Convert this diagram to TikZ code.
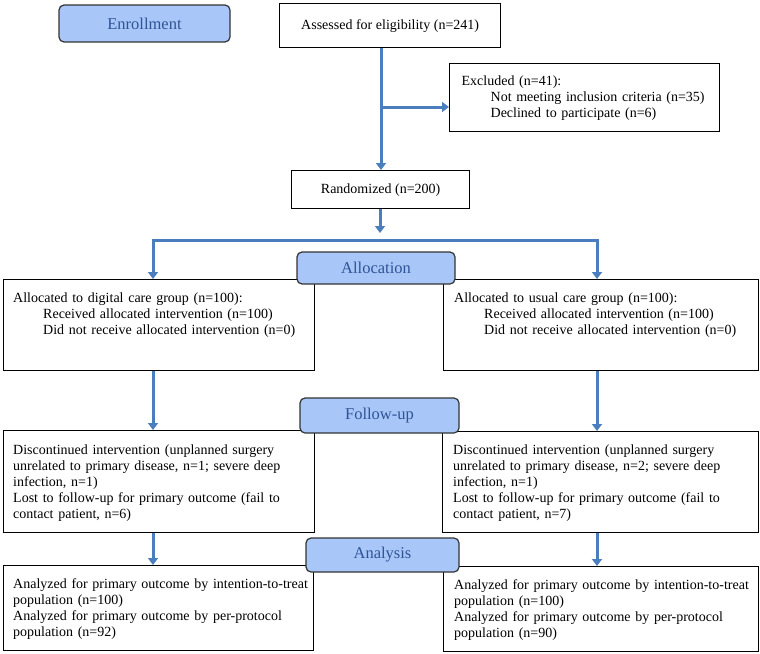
\documentclass[tikz,border=0pt]{standalone}
\usepackage{fontspec}
\setmainfont{Liberation Serif}
\usepackage{xcolor}
\usepackage{tikz}
\usetikzlibrary{arrows.meta,positioning,calc}

\definecolor{flowblue}{RGB}{74,126,191}
\definecolor{stagefill}{RGB}{168,198,248}
\definecolor{stagetext}{RGB}{47,84,150}

\begin{document}
\begin{tikzpicture}[
  x=1pt, y=-1pt,
  box/.style={draw, line width=1.3pt, inner sep=0pt, anchor=north west},
  txt/.style={anchor=north west, inner sep=0pt, align=left, text width=300pt, font=\fontsize{14}{16}\selectfont},
  stage/.style={draw=black!80, line width=1.2pt, rounded corners=5pt, fill=stagefill, text=stagetext, inner sep=0pt, font=\fontsize{16.5}{18}\selectfont},
  arrow/.style={-{Triangle[width=10pt,length=7pt]}, line width=3pt, draw=flowblue}
]
  \useasboundingbox (0,0) rectangle (760,653);

  % Enrollment
  \node[box, minimum width=221pt, minimum height=44pt, font=\fontsize{14}{16}\selectfont] (assess) at (279,3) {Assessed for eligibility (n=241)};
  \node[box, minimum width=270pt, minimum height=68pt, align=left, text width=246pt, font=\fontsize{14}{16}\selectfont] (excl) at (449,63)
    {Excluded (n=41):\\\hspace*{29pt}Not meeting inclusion criteria (n=35)\\\hspace*{29pt}Declined to participate (n=6)};
  \node[box, minimum width=178pt, minimum height=38pt, font=\fontsize{14}{16}\selectfont] (rand) at (291,170) {Randomized (n=200)};

  % Allocation
  \node[box, minimum width=311pt, minimum height=91pt] (allocL) at (3,279) {};
  \node[box, minimum width=315pt, minimum height=91pt] (allocR) at (443,279) {};
  \node[txt] (allocLtxt) at ([xshift=10pt,yshift=-14pt]allocL.north west)
    {Allocated to digital care group (n=100):\\\hspace*{30pt}Received allocated intervention (n=100)\\\hspace*{30pt}Did not receive allocated intervention (n=0)};
  \node[txt] (allocRtxt) at ([xshift=11pt,yshift=-14pt]allocR.north west)
    {Allocated to usual care group (n=100):\\\hspace*{30pt}Received allocated intervention (n=100)\\\hspace*{30pt}Did not receive allocated intervention (n=0)};

  % Follow-up
  \node[box, minimum width=311pt, minimum height=102pt] (followL) at (3,430) {};
  \node[box, minimum width=316pt, minimum height=101pt] (followR) at (442,431) {};
  \node[txt] (followLtxt) at ([xshift=10pt,yshift=-15pt]followL.north west)
    {Discontinued intervention (unplanned surgery\\unrelated to primary disease, n=1; severe deep\\infection, n=1)\\Lost to follow-up for primary outcome (fail to\\contact patient, n=6)};
  \node[txt] (followRtxt) at ([xshift=11pt,yshift=-14pt]followR.north west)
    {Discontinued intervention (unplanned surgery\\unrelated to primary disease, n=2; severe deep\\infection, n=1)\\Lost to follow-up for primary outcome (fail to\\contact patient, n=7)};

  % Analysis
  \node[box, minimum width=310pt, minimum height=85pt] (analysisL) at (3,565) {};
  \node[box, minimum width=315pt, minimum height=85pt] (analysisR) at (443,566) {};
  \node[txt] (analysisLtxt) at ([xshift=10pt,yshift=-13pt]analysisL.north west)
    {Analyzed for primary outcome by intention-to-treat\\population (n=100)\\Analyzed for primary outcome by per-protocol\\population (n=92)};
  \node[txt] (analysisRtxt) at ([xshift=11pt,yshift=-13pt]analysisR.north west)
    {Analyzed for primary outcome by intention-to-treat\\population (n=100)\\Analyzed for primary outcome by per-protocol\\population (n=90)};

  % Stage labels
  \node[stage, minimum width=171pt, minimum height=37pt] (enroll) at (144.5,23.5) {Enrollment};
  \node[stage, minimum width=158pt, minimum height=32pt] (allocation) at (376,268) {Allocation};
  \node[stage, minimum width=159pt, minimum height=35pt] (followup) at (379.5,415.5) {Follow-up};
  \node[stage, minimum width=153pt, minimum height=34pt] (analysis) at (382.5,555) {Analysis};

  % Branch points
  \coordinate (split) at (381,107);
  \coordinate (hub) at (380,240);
  \coordinate (brL) at (153,240);
  \coordinate (brR) at (597,240);

  % Arrows
  \draw[arrow] (assess.south -| split) -- (rand.north -| split);
  \draw[arrow] (split) -- (split -| excl.west);
  \draw[arrow] (rand.south -| hub) -- ([yshift=7pt]hub);
  \draw[arrow] (hub) -| (allocL.north -| brL);
  \draw[arrow] (hub) -| (allocR.north -| brR);
  \draw[arrow] (allocL.south -| brL) -- (followL.north -| brL);
  \draw[arrow] (allocR.south -| brR) -- (followR.north -| brR);
  \draw[arrow] (followL.south -| brL) -- (analysisL.north -| brL);
  \draw[arrow] (followR.south -| brR) -- (analysisR.north -| brR);
\end{tikzpicture}
\end{document}
